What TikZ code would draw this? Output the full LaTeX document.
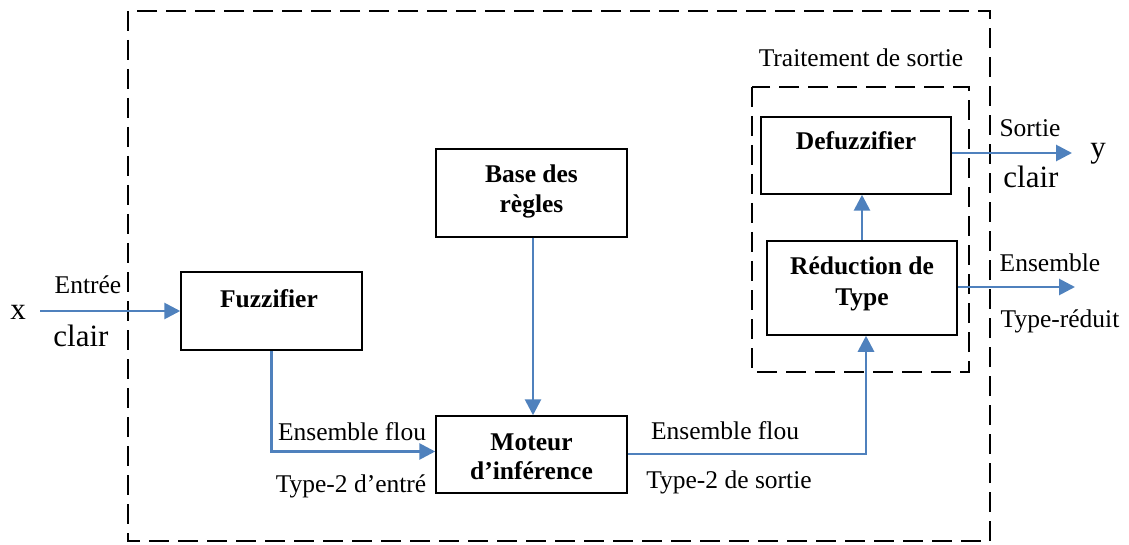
\documentclass[tikz,border=0pt]{standalone}
\usepackage{fontspec}
\setmainfont{Liberation Serif}
\usetikzlibrary{arrows.meta}
\definecolor{flowblue}{HTML}{4F81BD}
\begin{document}
\begin{tikzpicture}[x=1pt,y=-1pt,
  block/.style={draw=black,line width=1.5pt,inner sep=0pt},
  blocktext/.style={font=\fontsize{25.5}{29.5}\bfseries\selectfont,align=center,anchor=base},
  lbl/.style={font=\fontsize{25.5}{29.5}\selectfont,anchor=base,inner sep=0pt},
  biglbl/.style={font=\fontsize{31}{36}\selectfont,anchor=base,inner sep=0pt},
  frame/.style={draw=black,line width=2.8pt,dash pattern=on 20pt off 9pt},
  flow/.style={draw=flowblue,line width=2.8pt,-{Triangle[length=16pt,width=16pt]}}]
\useasboundingbox (0,0) rectangle (1129,545);

% outer system boundary and output-processing group
\draw[frame] (128,11) rectangle (990,541);
\draw[frame] (752,87) rectangle (969,372);
\node[lbl] (trait) at (861,67) {Traitement de sortie};

% blocks
\node[block,minimum width=181pt,minimum height=78pt] (fz) at (271.5,311) {};
\node[blocktext] (fzt) at (269,307) {Fuzzifier};

\node[block,minimum width=191pt,minimum height=88pt] (base) at (531.5,193) {};
\node[blocktext] (bt1) at (531.5,183) {Base des};
\node[blocktext] (bt2) at (531.5,213) {règles};

\node[block,minimum width=191pt,minimum height=77pt] (mot) at (531.5,454.5) {};
\node[blocktext] (mt1) at (531.5,450) {Moteur};
\node[blocktext] (mt2) at (531.5,479) {d’inférence};

\node[block,minimum width=190pt,minimum height=77pt] (dz) at (856,155.5) {};
\node[blocktext] (dzt) at (856,150) {Defuzzifier};

\node[block,minimum width=190pt,minimum height=94pt] (red) at (862,288) {};
\node[blocktext] (rt1) at (862,275) {Réduction de};
\node[blocktext] (rt2) at (862,305) {Type};

% free ends of the input and output lines
\coordinate (xin) at (40,311);
\coordinate (yout) at (1072,153);
\coordinate (tout) at (1075,287);

% connectors
\draw[flow] (xin) -- (fz.west);
\draw[flow] (fz.south) |- ([yshift=3pt]mot.west);
\draw[flow] (base.south -| 533,0) -- (mot.north -| 533,0);
\draw[flow] ([yshift=0.5pt]mot.east) -| ([xshift=4pt]red.south);
\draw[flow] (red.north) -- (red.north |- dz.south);
\draw[flow] (dz.east |- yout) -- (yout);
\draw[flow] (red.east |- tout) -- (tout);

% connector labels
\node[biglbl] (xl) at (18,319) {x};
\node[lbl] (ent) at (88,293) {Entrée};
\node[biglbl] (cl1) at (81,346) {clair};
\node[lbl] (ef1) at (352,440) {Ensemble flou};
\node[lbl] (t2e) at (351,492) {Type-2 d’entré};
\node[lbl] (ef2) at (725,439) {Ensemble flou};
\node[lbl] (t2s) at (729,488) {Type-2 de sortie};
\node[lbl] (sor) at (1030,137) {Sortie};
\node[biglbl] (cl2) at (1031,188) {clair};
\node[biglbl] (yl) at (1098,158) {y};
\node[lbl] (ens) at (1050,272) {Ensemble};
\node[lbl] (tr) at (1060,327) {Type-réduit};
\end{tikzpicture}
\end{document}
